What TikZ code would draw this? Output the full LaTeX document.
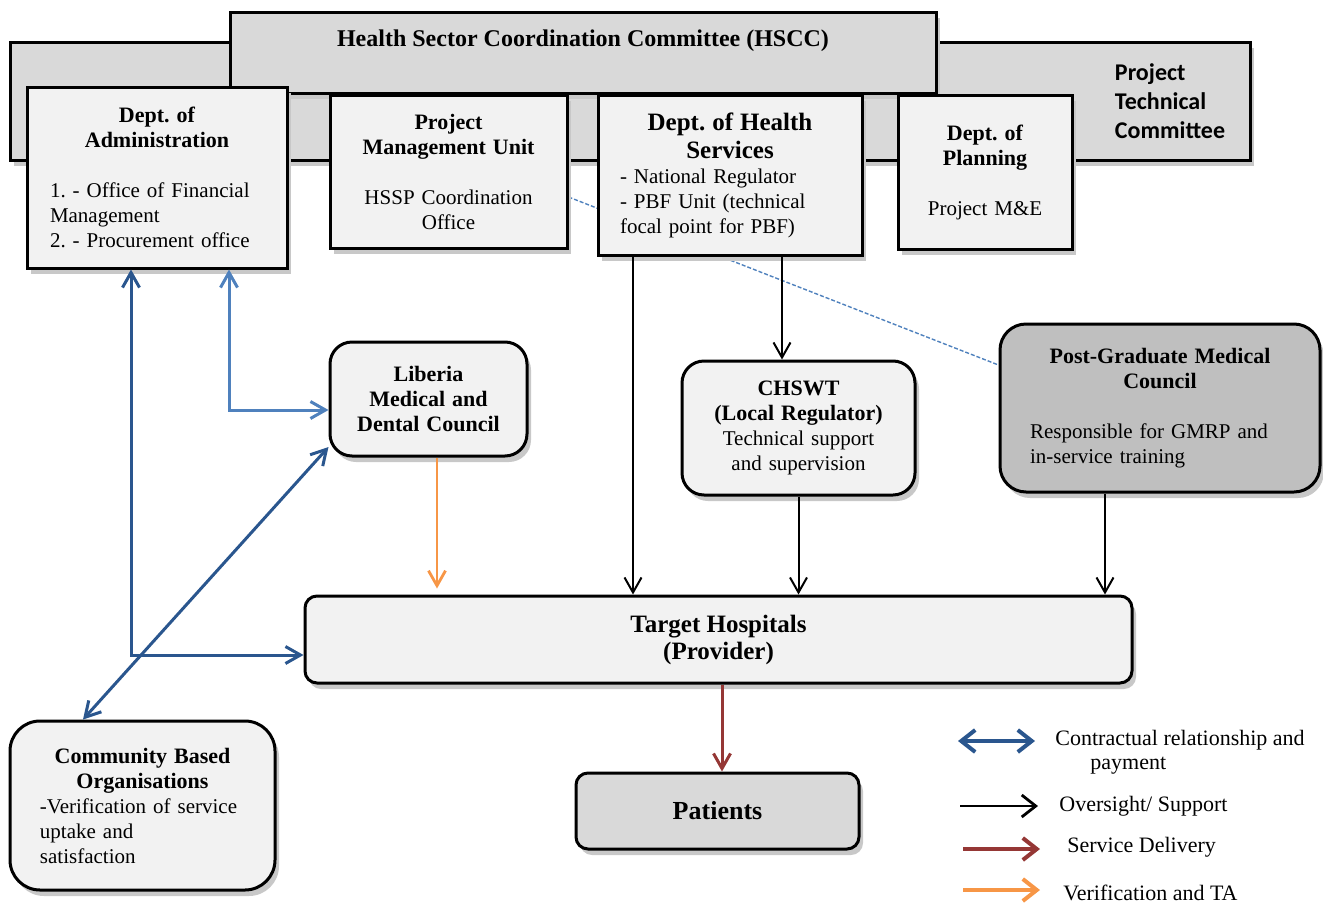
\documentclass[tikz,border=0pt]{standalone}
\usepackage{fontspec}
\setmainfont{Liberation Serif}
\newfontfamily\calibrifont{Carlito}
\usetikzlibrary{arrows.meta,shadows,backgrounds}
\frenchspacing

\definecolor{boxfill}{HTML}{F2F2F2}
\definecolor{greyfill}{HTML}{D9D9D9}
\definecolor{darkfill}{HTML}{BFBFBF}
\definecolor{shadowgrey}{HTML}{C8C8C8}
\definecolor{contractblue}{HTML}{2A568E}
\definecolor{lightblue}{HTML}{4F81BD}
\definecolor{verifyorange}{HTML}{F79646}
\definecolor{servicered}{HTML}{953735}

\newcommand{\bodyfont}{\fontsize{10.5}{12.5}\selectfont}
\newcommand{\titlefont}{\fontsize{11}{12.5}\selectfont\bfseries}
\newcommand{\bigtitlefont}{\fontsize{12.5}{14}\selectfont\bfseries}
\newcommand{\hsccfont}{\fontsize{12}{14}\selectfont\bfseries}
\newcommand{\ptcfont}{\calibrifont\fontsize{12}{14.5}\selectfont\bfseries}
\newcommand{\legendfont}{\fontsize{11}{12}\selectfont}

\newcommand{\boxtitle}[2][\titlefont]{{#1\centering #2\par}}
\newcommand{\boxbody}[2]{{\bodyfont\raggedright\leftskip=#1\relax #2\par}}
\newcommand{\boxcentre}[1]{{\bodyfont\centering #1\par}}

\tikzset{
  box/.style={draw, line width=1.5pt, fill=boxfill, inner sep=0pt, font=\bodyfont,
    drop shadow={shadow xshift=2pt, shadow yshift=-3pt, fill=shadowgrey, opacity=1}},
  roundbox/.style={box, rounded corners=#1},
  roundbox/.default=10pt,
  contract/.style={draw=contractblue, line width=1.5pt},
  relation/.style={draw=lightblue, line width=1.5pt},
  oversight/.style={draw=black, line width=1pt},
  verify/.style={draw=verifyorange, line width=1.4pt},
  service/.style={draw=servicered, line width=1.5pt},
  legendtext/.style={font=\legendfont, inner sep=0pt, anchor=west, align=left}
}

\begin{document}
\begin{tikzpicture}[>={Straight Barb[length=7.5pt,width=8.5pt]},x=0.5pt,y=-0.5pt]
\useasboundingbox (0,0) rectangle (1323,905);

% committees
\node[box, fill=greyfill, minimum width=620pt, minimum height=59pt, text width=620pt, font=\ptcfont] (ptc) at (630,101)
  {\raggedright\leftskip=552.5pt Project\\Technical\\Committee\par};
\node[box, fill=greyfill, minimum width=353pt, minimum height=40.5pt, text depth=14pt, font=\hsccfont] (hscc) at (583,52.5)
  {Health Sector Coordination Committee (HSCC)};

% departments
\node[box, minimum width=130pt, minimum height=90.5pt, text width=122pt] (admin) at (157,177.5)
  {\boxtitle{Dept. of\\Administration}\vspace{12.5pt}\boxbody{7.5pt}{1. - Office of Financial\\Management\\2. - Procurement office}};
\node[box, minimum width=118.5pt, minimum height=76.5pt, text width=110.5pt] (pmu) at (448.5,171.5)
  {\boxtitle{Project\\Management Unit}\vspace{12.5pt}\boxcentre{HSSP Coordination\\Office}};
\node[box, minimum width=132pt, minimum height=80pt, text width=124pt] (dhs) at (730,175)
  {\boxtitle[\bigtitlefont]{Dept. of Health\\Services}\boxbody{7pt}{- National Regulator\\- PBF Unit (technical\\focal point for PBF)}};
\node[box, minimum width=87pt, minimum height=77pt, text width=79pt] (plan) at (985,172)
  {\boxtitle{Dept. of\\Planning}\vspace{12.5pt}\boxcentre{Project M\&E}};

% councils and regulators
\node[roundbox=11pt, minimum width=98.5pt, minimum height=57pt, text width=92pt] (lmdc) at (428.5,399)
  {\boxtitle{Liberia\\Medical and\\Dental Council}};
\node[roundbox=11pt, minimum width=116.5pt, minimum height=67pt, text width=110pt] (chswt) at (798.5,428)
  {\boxtitle{CHSWT\\(Local Regulator)}\boxcentre{Technical support\\and supervision}};
\node[roundbox=13pt, fill=darkfill, minimum width=160pt, minimum height=84pt, text width=152pt] (pgmc) at (1160,408)
  {\boxtitle{Post-Graduate Medical\\Council}\vspace{12.5pt}\boxbody{11pt}{Responsible for GMRP and\\in-service training}};

% providers
\node[roundbox=6pt, minimum width=413.5pt, minimum height=43.5pt, align=center, font=\fontsize{12.5}{13.5}\selectfont\bfseries] (th) at (718.5,639.5)
  {Target Hospitals\\(Provider)};
\node[roundbox=6pt, fill=greyfill, minimum width=141.5pt, minimum height=38pt, font=\fontsize{13}{14}\selectfont\bfseries] (pat) at (717.5,811)
  {Patients};
\node[roundbox=15pt, minimum width=132.5pt, minimum height=84.5pt, text width=124.5pt] (cbo) at (142.5,805.5)
  {\boxtitle{Community Based\\Organisations}\boxbody{11pt}{-Verification of service\\uptake and\\satisfaction}};

% links
\begin{scope}[on background layer]
\draw[lightblue, line width=0.7pt, dash pattern=on 2pt off 1pt] (pmu.east |- 0,197) -- (pgmc.west |- 0,365);
\end{scope}
\draw[<->, contract] (admin.south -| 131,0) |- (th.west |- 0,655);
\draw[<->, relation] (admin.south -| 229,0) |- (lmdc.west |- 0,410);
\draw[<->, contract] (lmdc.west |- 0,447) -- (cbo.north -| 83,0);
\draw[->, verify, shorten >=3pt] (lmdc.south -| 437,0) -- (th.north -| 437,0);
\draw[->, oversight] (dhs.south -| 633,0) -- (th.north -| 633,0);
\draw[->, oversight] (dhs.south -| 782,0) -- (chswt.north -| 782,0);
\draw[->, oversight] (chswt.south) -- (th.north -| chswt.south);
\draw[->, oversight] (pgmc.south -| 1105,0) -- (th.north -| 1105,0);
\draw[->, service] (th.south -| 722,0) -- (pat.north -| 722,0);

% legend
\begin{scope}[>={Straight Barb[length=7pt,width=11pt]}]
\coordinate (lega) at (958,741); \coordinate (legb) at (1035,741);
\coordinate (legc) at (960,806); \coordinate (legd) at (1038,806);
\coordinate (lege) at (963,849); \coordinate (legf) at (1040,849);
\coordinate (legg) at (963,890); \coordinate (legh) at (1040,890);
\draw[<->, contract, line width=2pt] (lega) -- (legb);
\draw[->, oversight, line width=1.4pt] (legc) -- (legd);
\draw[->, service, line width=2pt] (lege) -- (legf);
\draw[->, verify, line width=2pt] (legg) -- (legh);
\end{scope}
\node[legendtext] (legcontract) at (1055,752) {Contractual relationship and\\\hspace*{17.5pt}payment};
\node[legendtext] (legoversight) at (1059,806) {Oversight/ Support};
\node[legendtext] (legservice) at (1067,847) {Service Delivery};
\node[legendtext] (legverify) at (1063,893) {Verification and TA};
\end{tikzpicture}
\end{document}
